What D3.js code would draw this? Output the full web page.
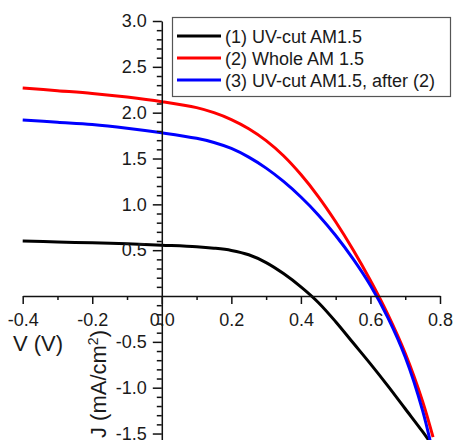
<!DOCTYPE html>
<html>
<head>
<meta charset="utf-8">
<script src="https://cdn.jsdelivr.net/npm/d3@7"></script>
<style>
  body { margin: 0; background: #fff; }
  svg { display: block; font-family: "Liberation Sans", Arial, sans-serif; }
  .axis text { font-size: 18px; fill: #1a1a1a; }
  .axis path, .axis line { stroke: #111; stroke-width: 1.5; }
  .series { fill: none; stroke-width: 3; }
</style>
</head>
<body>
<div id="chart"></div>
<script>
// voltage grid (V)
var voltage = [-0.4, -0.3, -0.2, -0.1, 0, 0.1, 0.15, 0.2, 0.25, 0.3, 0.35, 0.4, 0.45, 0.5, 0.55, 0.6, 0.65, 0.7, 0.75, 0.78];

// current density J (mA/cm2) for each run
var uvCut = [0.60, 0.59, 0.58, 0.57, 0.555, 0.538, 0.522, 0.497, 0.45, 0.365, 0.245, 0.10, -0.07, -0.28, -0.51, -0.74, -0.98, -1.23, -1.48, -1.64];
var wholeAM = [2.27, 2.24, 2.21, 2.17, 2.12, 2.055, 2.0, 1.925, 1.825, 1.695, 1.53, 1.325, 1.085, 0.81, 0.505, 0.17, -0.20, -0.625, -1.15, -1.54];
var uvCutAfter = [1.92, 1.895, 1.87, 1.83, 1.78, 1.72, 1.675, 1.61, 1.515, 1.395, 1.25, 1.08, 0.885, 0.66, 0.405, 0.115, -0.235, -0.665, -1.25, -1.72];

var seriesNames = ["(1) UV-cut AM1.5", "(2) Whole AM 1.5", "(3) UV-cut AM1.5, after (2)"];
var seriesColors = ["#000000", "#ff0000", "#0000ff"];

var xTicks = [-0.4, -0.2, 0, 0.2, 0.4, 0.6, 0.8];
var yTicks = [3.0, 2.5, 2.0, 1.5, 1.0, 0.5, -0.5, -1.0, -1.5];

var width = 454, height = 440;

var svg = d3.select("#chart").append("svg")
    .attr("width", width)
    .attr("height", height);

var x = d3.scaleLinear().domain([-0.4, 0.8]).range([22.7, 440]);
var y = d3.scaleLinear().domain([-1.6, 3.0]).range([442.7, 21]);

var xMinor = d3.range(-4, 9).map(d => d / 10).filter(d => Math.abs(Math.round(d * 10)) % 2 === 1);
var yMinor = d3.range(-16, 31).map(d => d / 10).filter(d => Math.abs(Math.round(d * 10)) % 5 !== 0);

// curves
var all = [uvCut, wholeAM, uvCutAfter];
var line = d3.line()
    .x(d => x(d[0]))
    .y(d => y(d[1]))
    .curve(d3.curveCatmullRom.alpha(0.5));

all.forEach(function(vals, i) {
  svg.append("path")
      .attr("class", "series")
      .attr("stroke", seriesColors[i])
      .attr("d", line(voltage.map((v, k) => [v, vals[k]])));
});

// x axis through J = 0
var gx = svg.append("g")
    .attr("class", "x axis")
    .attr("transform", "translate(0," + y(0) + ")");
gx.call(d3.axisBottom(x).tickValues(xTicks).tickSizeInner(8).tickSizeOuter(0).tickPadding(9)
    .tickFormat(d => d.toFixed(1)));
gx.append("g").call(d3.axisBottom(x).tickValues(xMinor).tickSize(4).tickFormat(""))
  .select(".domain").remove();

// y axis through V = 0
var gy = svg.append("g")
    .attr("class", "y axis")
    .attr("transform", "translate(" + x(0) + ",0)");
gy.call(d3.axisLeft(y).tickValues(yTicks).tickSizeInner(9).tickSizeOuter(0).tickPadding(6)
    .tickFormat(d => d.toFixed(1)));
gy.append("g").call(d3.axisLeft(y).tickValues(yMinor).tickSize(5).tickFormat(""))
  .select(".domain").remove();

// axis titles
svg.append("text")
    .attr("x", 13)
    .attr("y", 351)
    .style("font-size", "22px")
    .attr("fill", "#1a1a1a")
    .text("V (V)");

var jt = svg.append("text")
    .attr("transform", "translate(106,330) rotate(-90)")
    .attr("text-anchor", "end")
    .style("font-size", "22px")
    .attr("fill", "#1a1a1a");
jt.append("tspan").text("J (mA/cm");
jt.append("tspan").attr("dy", -8).style("font-size", "14px").text("2");
jt.append("tspan").attr("dy", 8).text(")");

// legend
var legend = svg.append("g").attr("class", "legend");
legend.append("rect")
    .attr("x", 172.5).attr("y", 17.5)
    .attr("width", 278).attr("height", 79)
    .attr("fill", "#fff")
    .attr("stroke", "#555")
    .attr("stroke-width", 1.2);

seriesNames.forEach(function(name, i) {
  var ly = 36 + i * 22;
  legend.append("line")
      .attr("x1", 177).attr("x2", 221)
      .attr("y1", ly).attr("y2", ly)
      .attr("stroke", seriesColors[i])
      .attr("stroke-width", 3);
  legend.append("text")
      .attr("x", 225).attr("y", ly + 6.5)
      .style("font-size", "18px")
      .attr("fill", "#1a1a1a")
      .text(name);
});
</script>
</body>
</html>
